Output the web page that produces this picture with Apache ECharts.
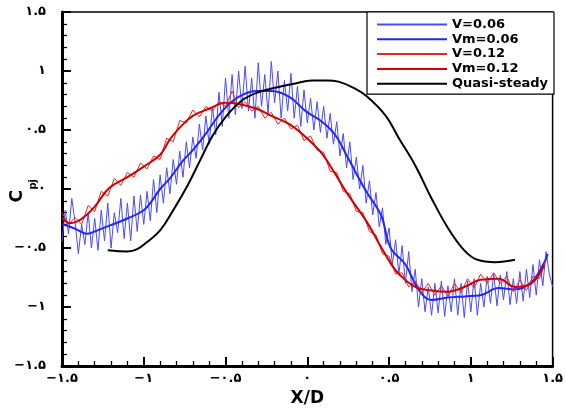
<!DOCTYPE html>
<html><head><meta charset="utf-8">
<script src="https://cdn.jsdelivr.net/npm/echarts@6/dist/echarts.min.js"></script>
<style>html,body{margin:0;padding:0;background:#fff}#c{width:566px;height:412px}</style>
</head><body><div id="c"></div>
<script>
var seriesNames = ['V=0.06','Vm=0.06','V=0.12','Vm=0.12','Quasi-steady'];
var xTicks = [-1.5,-1,-0.5,0,0.5,1,1.5];
var yTicks = [-1.5,-1,-0.5,0,0.5,1,1.5];

var v06 = [[-1.50,-0.45],[-1.48,-0.18],[-1.46,-0.38],[-1.44,-0.08],[-1.42,-0.28],[-1.40,-0.55],[-1.38,-0.30],[-1.36,-0.47],[-1.34,-0.20],[-1.32,-0.50],
[-1.30,-0.25],[-1.28,-0.52],[-1.26,-0.18],[-1.24,-0.44],[-1.22,-0.12],[-1.20,-0.50],[-1.18,-0.20],[-1.16,-0.37],[-1.14,-0.08],[-1.12,-0.42],
[-1.10,-0.12],[-1.08,-0.44],[-1.06,-0.06],[-1.04,-0.36],[-1.02,-0.05],[-1.00,-0.30],[-0.98,-0.02],[-0.96,-0.27],[-0.94,0.08],[-0.92,-0.20],
[-0.90,0.12],[-0.88,-0.12],[-0.86,0.18],[-0.84,-0.04],[-0.82,0.25],[-0.80,0.04],[-0.78,0.32],[-0.76,0.10],[-0.74,0.40],[-0.72,0.18],
[-0.70,0.44],[-0.68,0.26],[-0.66,0.55],[-0.64,0.33],[-0.62,0.62],[-0.60,0.38],[-0.58,0.70],[-0.56,0.46],[-0.54,0.82],[-0.52,0.53],
[-0.50,0.94],[-0.48,0.60],[-0.46,0.97],[-0.44,0.63],[-0.42,1.00],[-0.40,0.68],[-0.38,1.04],[-0.36,0.66],[-0.34,0.94],[-0.32,0.60],
[-0.30,1.07],[-0.28,0.70],[-0.26,0.97],[-0.24,0.64],[-0.22,1.08],[-0.20,0.73],[-0.18,1.00],[-0.16,0.60],[-0.14,0.92],[-0.12,0.66],
[-0.10,0.98],[-0.08,0.60],[-0.06,0.87],[-0.04,0.53],[-0.02,0.84],[0.00,0.56],[0.02,0.77],[0.04,0.50],[0.06,0.74],[0.08,0.48],
[0.10,0.70],[0.12,0.43],[0.14,0.64],[0.16,0.38],[0.18,0.57],[0.20,0.28],[0.22,0.47],[0.24,0.18],[0.26,0.40],[0.28,0.08],
[0.30,0.27],[0.32,0.00],[0.34,0.20],[0.36,-0.12],[0.38,0.07],[0.40,-0.22],[0.42,-0.03],[0.44,-0.32],[0.46,-0.16],[0.48,-0.47],
[0.50,-0.33],[0.52,-0.64],[0.54,-0.43],[0.56,-0.72],[0.58,-0.48],[0.60,-0.80],[0.62,-0.53],[0.64,-0.87],[0.66,-0.68],[0.68,-1.00],
[0.70,-0.76],[0.72,-1.04],[0.74,-0.83],[0.76,-1.07],[0.78,-0.80],[0.80,-1.05],[0.82,-0.78],[0.84,-1.08],[0.86,-0.82],[0.88,-1.04],
[0.90,-0.76],[0.92,-1.07],[0.94,-0.80],[0.96,-1.09],[0.98,-0.78],[1.00,-1.04],[1.02,-0.76],[1.04,-1.07],[1.06,-0.80],[1.08,-1.00],
[1.10,-0.74],[1.12,-0.97],[1.14,-0.72],[1.16,-0.99],[1.18,-0.73],[1.20,-0.94],[1.22,-0.70],[1.24,-0.98],[1.26,-0.76],[1.28,-0.97],
[1.30,-0.70],[1.32,-0.95],[1.34,-0.68],[1.36,-0.92],[1.38,-0.64],[1.40,-0.90],[1.42,-0.60],[1.44,-0.82],[1.46,-0.53],[1.48,-0.72],[1.50,-0.83]];

var vm06 = [[-1.50,-0.30],[-1.45,-0.32],[-1.40,-0.35],[-1.35,-0.38],[-1.30,-0.36],[-1.21,-0.31],[-1.10,-0.25],[-1.00,-0.18],[-0.95,-0.10],[-0.90,0.00],
[-0.84,0.09],[-0.76,0.24],[-0.70,0.33],[-0.62,0.47],[-0.52,0.66],[-0.42,0.78],[-0.31,0.83],[-0.22,0.83],[-0.11,0.78],[-0.01,0.66],
[0.09,0.57],[0.17,0.46],[0.25,0.26],[0.36,-0.02],[0.45,-0.22],[0.51,-0.50],[0.60,-0.64],[0.68,-0.85],[0.76,-0.94],[0.86,-0.92],
[0.96,-0.91],[1.06,-0.90],[1.17,-0.84],[1.27,-0.85],[1.37,-0.79],[1.45,-0.62],[1.47,-0.55]];

var v12 = [[-1.50,-0.20],[-1.46,-0.30],[-1.42,-0.24],[-1.38,-0.30],[-1.34,-0.14],[-1.30,-0.19],[-1.26,-0.02],[-1.22,-0.06],[-1.18,0.09],[-1.14,0.03],
[-1.10,0.14],[-1.06,0.10],[-1.02,0.22],[-0.98,0.17],[-0.94,0.28],[-0.90,0.25],[-0.86,0.43],[-0.82,0.40],[-0.78,0.58],[-0.74,0.56],
[-0.70,0.67],[-0.66,0.61],[-0.62,0.70],[-0.58,0.66],[-0.54,0.74],[-0.50,0.70],[-0.46,0.83],[-0.42,0.69],[-0.38,0.74],[-0.34,0.66],
[-0.30,0.70],[-0.26,0.60],[-0.22,0.65],[-0.18,0.55],[-0.14,0.60],[-0.10,0.51],[-0.06,0.54],[-0.02,0.41],[0.02,0.45],[0.06,0.33],
[0.10,0.31],[0.14,0.15],[0.18,0.14],[0.22,-0.02],[0.26,-0.04],[0.30,-0.19],[0.34,-0.20],[0.38,-0.36],[0.42,-0.39],[0.46,-0.55],
[0.50,-0.57],[0.54,-0.72],[0.58,-0.71],[0.62,-0.83],[0.66,-0.78],[0.70,-0.88],[0.74,-0.80],[0.78,-0.90],[0.82,-0.82],[0.86,-0.91],
[0.90,-0.80],[0.94,-0.88],[0.98,-0.76],[1.02,-0.84],[1.06,-0.72],[1.10,-0.80],[1.14,-0.71],[1.18,-0.80],[1.22,-0.74],[1.26,-0.87],
[1.30,-0.77],[1.34,-0.86],[1.38,-0.74],[1.42,-0.76],[1.46,-0.60]];

var vm12 = [[-1.50,-0.24],[-1.45,-0.29],[-1.40,-0.27],[-1.35,-0.22],[-1.30,-0.15],[-1.21,0.01],[-1.10,0.10],[-1.00,0.19],[-0.90,0.29],[-0.84,0.42],
[-0.78,0.52],[-0.70,0.62],[-0.60,0.68],[-0.50,0.73],[-0.42,0.72],[-0.31,0.68],[-0.22,0.62],[-0.11,0.55],[-0.01,0.44],[0.09,0.30],
[0.17,0.13],[0.25,-0.05],[0.36,-0.27],[0.45,-0.49],[0.51,-0.63],[0.56,-0.72],[0.66,-0.83],[0.76,-0.86],[0.86,-0.87],[0.96,-0.83],
[1.06,-0.77],[1.17,-0.76],[1.27,-0.83],[1.37,-0.80],[1.45,-0.64]];

var quasi = [[-1.22,-0.52],[-1.10,-0.53],[-1.04,-0.51],[-0.98,-0.45],[-0.90,-0.35],[-0.82,-0.18],[-0.74,0.01],[-0.66,0.23],[-0.58,0.45],[-0.50,0.61],
[-0.40,0.75],[-0.30,0.82],[-0.19,0.86],[-0.09,0.89],[0.03,0.92],[0.12,0.92],[0.19,0.91],[0.28,0.86],[0.36,0.79],[0.48,0.62],
[0.56,0.43],[0.66,0.20],[0.76,-0.08],[0.86,-0.33],[0.96,-0.52],[1.04,-0.60],[1.15,-0.62],[1.27,-0.60]];

var seriesColors = ['#4a4aff','#2424ff','#e82828','#d00000','#000000'];

function persian(v){
  var s = String(Math.abs(v));
  var out = '';
  for (var i=0;i<s.length;i++){
    var ch = s[i];
    out += (ch>='0'&&ch<='9') ? String.fromCharCode(0x06F0 + (+ch)) : ch;
  }
  return (v<0 ? '\u2212' : '') + out;
}

var FONT = 'DejaVu Sans';
var chart = echarts.init(document.getElementById('c'), null, {renderer:'canvas'});
function axisCommon(){
  return {
    type:'value', min:-1.5, max:1.5, interval:0.5,
    axisLine:{show:true, onZero:false, lineStyle:{color:'#000', width:3}},
    axisTick:{show:true, inside:true, length:9, lineStyle:{color:'#000', width:2}},
    minorTick:{show:true, splitNumber:5, length:5, lineStyle:{color:'#000', width:1.3}},
    splitLine:{show:false},
    axisLabel:{color:'#000', fontFamily:FONT, fontWeight:'bold', fontSize:13, formatter:function(v){return persian(v);}}
  };
}
var xa = axisCommon();
xa.axisLabel.margin = 6;
xa.name = 'X/D'; xa.nameLocation = 'middle'; xa.nameGap = 24;
xa.nameTextStyle = {color:'#000', fontFamily:FONT, fontWeight:'bold', fontSize:17};
var ya = axisCommon();
ya.axisLabel.margin = 16;

chart.setOption({
  animation:false,
  backgroundColor:'#fff',
  grid:{left:62, right:11, top:12, bottom:42, show:true, borderColor:'#000', borderWidth:1.5, backgroundColor:'transparent'},
  xAxis: xa,
  yAxis: ya,
  legend:{
    orient:'vertical', right:12, top:12, data:seriesNames,
    backgroundColor:'#fff', borderColor:'#000', borderWidth:1.2,
    padding:[6,6,4,9], itemWidth:70, itemHeight:14, itemGap:1.8, itemTextGap:12,
    itemStyle:{opacity:0},
    textStyle:{color:'#000', fontFamily:FONT, fontWeight:'bold', fontSize:13}
  },
  graphic:[
    {type:'text', left:9, top:190, rotation:Math.PI/2, style:{text:'C', fill:'#000', font:'bold 17px "DejaVu Sans"'}},
    {type:'text', left:28, top:179, rotation:Math.PI/2, style:{text:'pj', fill:'#000', font:'bold 10px "DejaVu Sans"'}}
  ],
  series:[
    {name:seriesNames[0], type:'line', data:v06, symbol:'none', z:2, color:seriesColors[0], lineStyle:{color:seriesColors[0], width:1}},
    {name:seriesNames[1], type:'line', data:vm06, symbol:'none', smooth:0.4, z:3, color:seriesColors[1], lineStyle:{color:seriesColors[1], width:2}},
    {name:seriesNames[2], type:'line', data:v12, symbol:'none', z:4, color:seriesColors[2], lineStyle:{color:seriesColors[2], width:1}},
    {name:seriesNames[3], type:'line', data:vm12, symbol:'none', smooth:0.4, z:5, color:seriesColors[3], lineStyle:{color:seriesColors[3], width:2}},
    {name:seriesNames[4], type:'line', data:quasi, symbol:'none', smooth:0.4, z:6, color:seriesColors[4], lineStyle:{color:seriesColors[4], width:2}}
  ]
});
</script></body></html>
